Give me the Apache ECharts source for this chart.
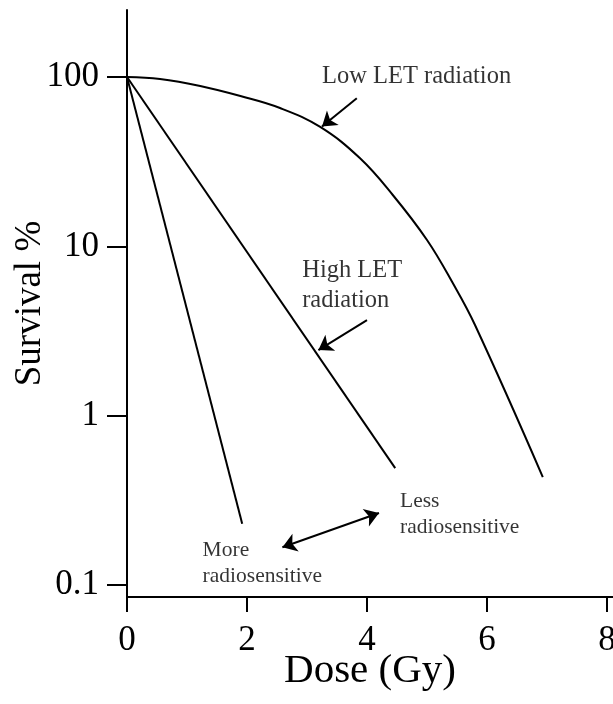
<!DOCTYPE html>
<html>
<head>
<meta charset="utf-8">
<script src="https://cdn.jsdelivr.net/npm/echarts@6/dist/echarts.min.js"></script>
<style>
  html, body { margin: 0; padding: 0; background: #fff; }
  #chart { width: 613px; height: 704px; }
</style>
</head>
<body>
<div id="chart"></div>
<script>
// dose (Gy) / survival (%)
const lowLetDose = [0, 0.55, 1.22, 1.89, 2.55, 3.22, 3.88, 4.43, 5.0, 5.42, 5.8, 6.93];
const lowLetSurv = [100, 97.3, 88.5, 77.2, 65.6, 50.7, 33.2, 20.1, 10.9, 6.15, 3.43, 0.434];
const highLetDose = [0, 4.47];
const highLetSurv = [100, 0.49];
const sensitiveDose = [0, 1.92];
const sensitiveSurv = [100, 0.23];

const xTicks = [0, 2, 4, 6, 8];
const yTicks = [0.1, 1, 10, 100];

// annotations
const letText = ['Low LET radiation', 'High LET\nradiation'];
const letDose = [3.25, 2.92];
const letSurv = [100, 5.9];
const sensText = ['Less\nradiosensitive', 'More\nradiosensitive'];
const sensDose = [4.55, 1.26];
const sensSurv = [0.262, 0.134];

// arrows: [from, to]
const arrowFrom = [[3.83, 75], [4.0, 3.67], [2.59, 0.167]];
const arrowTo = [[3.25, 51], [3.19, 2.44], [4.20, 0.266]];
const arrowHeads = [['none', 'arrow'], ['none', 'arrow'], ['arrow', 'arrow']];

const zip = (a, b) => a.map((v, i) => [v, b[i]]);
const font = '"Liberation Serif", "Times New Roman", serif';

const chart = echarts.init(document.getElementById('chart'));

const lineStyle = { color: '#000', width: 2 };

function noteSeries(texts, xs, ys, size, lh) {
  return {
    type: 'scatter',
    symbolSize: 0,
    silent: true,
    data: texts.map((t, i) => ({ value: [xs[i], ys[i]], name: t })),
    label: {
      show: true,
      position: 'right',
      distance: 0,
      formatter: p => p.name,
      fontFamily: font,
      fontSize: size,
      lineHeight: lh,
      color: '#000',
      align: 'left'
    }
  };
}

const option = {
  animation: false,
  backgroundColor: '#fff',
  textStyle: { fontFamily: font, color: '#000' },
  grid: { left: 127, right: 0, top: 10, bottom: 107, containLabel: false, outerBoundsMode: 'none' },
  xAxis: {
    type: 'value',
    min: 0,
    max: 8.1,
    name: 'Dose (Gy)',
    nameLocation: 'middle',
    nameGap: 54,
    nameMoveOverlap: false,
    nameTextStyle: { fontFamily: font, fontSize: 41, color: '#000' },
    splitLine: { show: false },
    axisLine: { lineStyle: { color: '#000', width: 2 } },
    axisTick: { customValues: xTicks, length: 15, lineStyle: { color: '#000', width: 2 } },
    axisLabel: { customValues: xTicks, margin: 26, fontFamily: font, fontSize: 35, color: '#000' }
  },
  yAxis: {
    type: 'log',
    logBase: 10,
    min: 0.0849,
    max: 248.8,
    name: 'Survival %',
    nameLocation: 'middle',
    nameGap: 78,
    nameMoveOverlap: false,
    nameTextStyle: { fontFamily: font, fontSize: 37, color: '#000' },
    splitLine: { show: false },
    axisLine: { show: true, lineStyle: { color: '#000', width: 2 } },
    axisTick: { customValues: yTicks, length: 20, lineStyle: { color: '#000', width: 2 } },
    axisLabel: {
      customValues: yTicks,
      margin: 28,
      fontFamily: font,
      fontSize: 35,
      color: '#000',
      formatter: v => String(v)
    }
  },
  series: [
    {
      type: 'line',
      data: zip(lowLetDose, lowLetSurv),
      symbol: 'none',
      smooth: 0.4,
      lineStyle: lineStyle
    },
    {
      type: 'line',
      data: zip(highLetDose, highLetSurv),
      symbol: 'none',
      lineStyle: lineStyle
    },
    {
      type: 'line',
      data: zip(sensitiveDose, sensitiveSurv),
      symbol: 'none',
      lineStyle: lineStyle
    },
    noteSeries(letText, letDose, letSurv, 24.5, 30),
    noteSeries(sensText, sensDose, sensSurv, 21.5, 26),
    {
      type: 'line',
      data: [],
      markLine: {
        silent: true,
        animation: false,
        symbolSize: 14,
        label: { show: false },
        lineStyle: { color: '#000', width: 2, type: 'solid' },
        data: arrowFrom.map((f, i) => [
          { coord: f, symbol: arrowHeads[i][0] },
          { coord: arrowTo[i], symbol: arrowHeads[i][1] }
        ])
      }
    }
  ]
};

chart.setOption(option);
</script>
</body>
</html>
